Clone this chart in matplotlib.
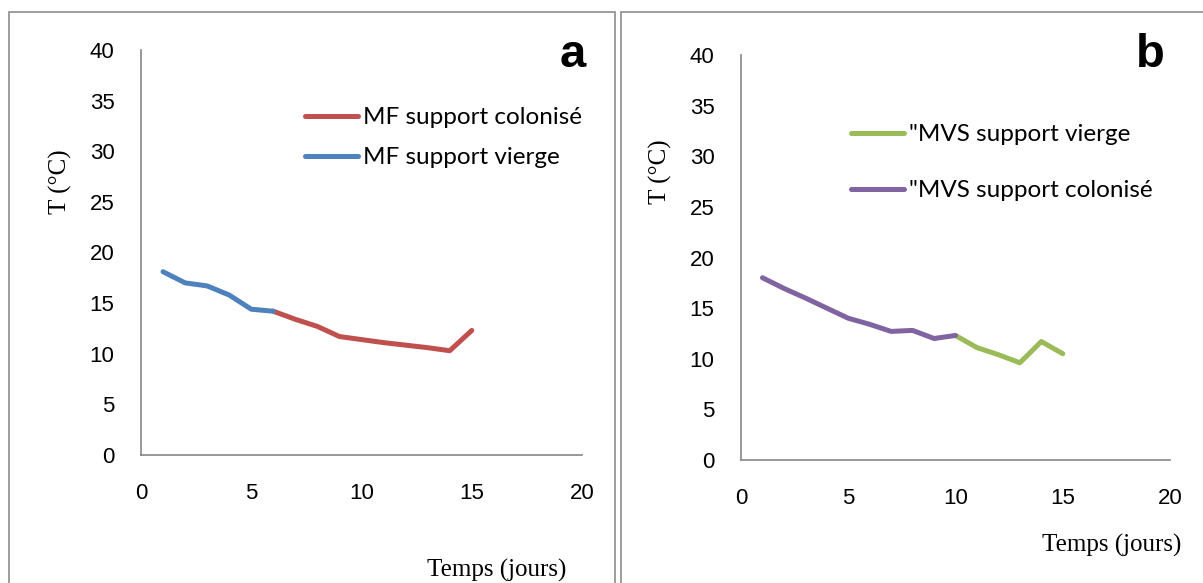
import matplotlib
matplotlib.use('Agg')
import matplotlib.pyplot as plt
from matplotlib.patches import Rectangle
from matplotlib import font_manager

# panel a : MF
jours_a_vierge = [1, 2, 3, 4, 5, 6]
T_a_vierge = [18.1, 17.0, 16.7, 15.8, 14.4, 14.2]
jours_a_colon = [6, 7, 8, 9, 10, 11, 12, 13, 14, 15]
T_a_colon = [14.2, 13.4, 12.7, 11.7, 11.4, 11.1, 10.85, 10.6, 10.3, 12.3]

# panel b : MVS
jours_b_colon = [1, 2, 3, 4, 5, 6, 7, 8, 9, 10]
T_b_colon = [18.0, 16.95, 16.0, 15.0, 14.0, 13.4, 12.7, 12.8, 12.0, 12.3]
jours_b_vierge = [10, 11, 12, 13, 14, 15]
T_b_vierge = [12.3, 11.1, 10.4, 9.6, 11.7, 10.5]

ticks_x = [0, 5, 10, 15, 20]
ticks_y = [0, 5, 10, 15, 20, 25, 30, 35, 40]

W, H = 1203, 583
names = {f.name for f in font_manager.fontManager.ttflist}
narrow = 'Liberation Sans Narrow' if 'Liberation Sans Narrow' in names else 'Liberation Sans'

GRIS = '#868686'
fig = plt.figure(figsize=(W / 100, H / 100), dpi=100)


def px(x, y):
    return x / W, 1 - y / H


def panneau(x0, x1, y0, y40):
    ax = fig.add_axes([x0 / W, 1 - y0 / H, (x1 - x0) / W, (y0 - y40) / H])
    ax.set_xlim(0, 20)
    ax.set_ylim(0, 40)
    ax.set_xticks(ticks_x)
    ax.set_yticks(ticks_y)
    for s in ['top', 'right']:
        ax.spines[s].set_visible(False)
    for s in ['left', 'bottom']:
        ax.spines[s].set_color(GRIS)
        ax.spines[s].set_linewidth(1.2)
    ax.tick_params(length=0, labelsize=16)
    ax.tick_params(axis='y', pad=19)
    ax.tick_params(axis='x', pad=20)
    for lab in ax.get_xticklabels() + ax.get_yticklabels():
        lab.set_family(narrow)
    return ax


# cadres
fig.add_artist(Rectangle(px(8.7, 590), (615 - 8.7) / W, (590 - 11.7) / H,
                         transform=fig.transFigure, fill=False, ec='#8c8c8c', lw=1.2))
fig.add_artist(Rectangle(px(621, 590), (1215 - 621) / W, (590 - 11.7) / H,
                         transform=fig.transFigure, fill=False, ec='#8c8c8c', lw=1.2))

leg_font = {'family': 'Lato', 'size': 17.5}

ax1 = panneau(141, 582, 455, 50)
ax1.plot(jours_a_colon, T_a_colon, color='#C0504D', lw=3.6, solid_capstyle='round',
         label='MF support colonisé')
ax1.plot(jours_a_vierge, T_a_vierge, color='#4F81BD', lw=3.6, solid_capstyle='round',
         label='MF support vierge')
ax1.legend(loc='upper left', bbox_to_anchor=px(305, 107), bbox_transform=fig.transFigure,
           frameon=False, borderpad=0, borderaxespad=0, handlelength=2.2,
           handletextpad=0.2, labelspacing=0.8, prop=leg_font)

ax2 = panneau(741, 1170, 460, 55)
ax2.plot(jours_b_vierge, T_b_vierge, color='#9BBB59', lw=3.6, solid_capstyle='round',
         label='"MVS support vierge')
ax2.plot(jours_b_colon, T_b_colon, color='#8064A2', lw=3.6, solid_capstyle='round',
         label='"MVS support colonisé')
ax2.legend(loc='upper left', bbox_to_anchor=px(851, 124), bbox_transform=fig.transFigure,
           frameon=False, borderpad=0, borderaxespad=0, handlelength=2.2,
           handletextpad=0.2, labelspacing=1.45, prop=leg_font)

serif = {'family': 'Liberation Serif', 'size': 18}
fig.text(*px(60, 182), 'T (°C)', rotation=90, ha='center', va='center', fontdict=serif)
fig.text(*px(660, 172), 'T (°C)', rotation=90, ha='center', va='center', fontdict=serif)
fig.text(*px(497, 570), 'Temps (jours)', ha='center', va='center', fontdict=serif)
fig.text(*px(1112, 545), 'Temps (jours)', ha='center', va='center', fontdict=serif)

fig.text(*px(573, 67), 'a', ha='center', va='baseline', family=narrow,
         weight='bold', size=34)
fig.text(*px(1150, 67), 'b', ha='center', va='baseline', family=narrow,
         weight='bold', size=34)

fig.savefig('out.png', dpi=100)
